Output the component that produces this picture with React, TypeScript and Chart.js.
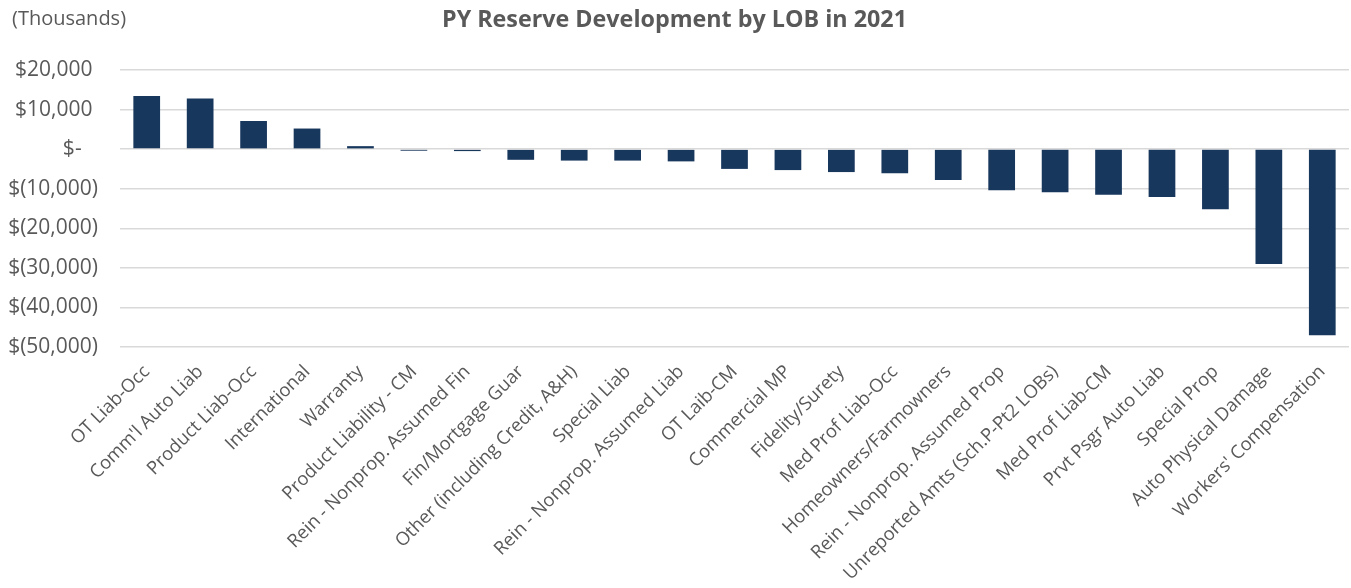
import { useEffect, useRef } from "react";
import { Chart, registerables } from "chart.js";

Chart.register(...registerables);

const TITLE = "PY Reserve Development by LOB in 2021";
const UNIT_LABEL = "(Thousands)";

const categories = [
  "OT Liab-Occ",
  "Comm'l Auto Liab",
  "Product Liab-Occ",
  "International",
  "Warranty",
  "Product Liability - CM",
  "Rein - Nonprop. Assumed Fin",
  "Fin/Mortgage Guar",
  "Other (including Credit, A&H)",
  "Special Liab",
  "Rein - Nonprop. Assumed Liab",
  "OT Laib-CM",
  "Commercial MP",
  "Fidelity/Surety",
  "Med Prof Liab-Occ",
  "Homeowners/Farmowners",
  "Rein - Nonprop. Assumed Prop",
  "Unreported Amts (Sch.P-Pt2 LOBs)",
  "Med Prof Liab-CM",
  "Prvt Psgr Auto Liab",
  "Special Prop",
  "Auto Physical Damage",
  "Workers' Compensation",
];

const values = [
  13400, 12800, 7100, 5200, 750, -400, -500, -2700, -2900, -2900, -3100,
  -5000, -5300, -5800, -6100, -7800, -10400, -10900, -11500, -12100, -15200,
  -29000, -47000,
];

const Y_MIN = -50000;
const Y_MAX = 20000;
const Y_STEP = 10000;

const BAR_COLOR = "#18375D";
const TEXT_COLOR = "#595959";
const GRID_COLOR = "#D9D9D9";
const FONT = "'Open Sans', 'Noto Sans', sans-serif";

function formatTick(v: number): string {
  if (v === 0) return "$-   ";
  const s = Math.abs(v).toLocaleString("en-US");
  return v < 0 ? `$(${s})` : `$${s} `;
}

export default function App() {
  const ref = useRef<HTMLCanvasElement>(null);

  useEffect(() => {
    document.body.style.margin = "0";
    const canvas = ref.current;
    if (!canvas) return;
    const chart = new Chart(canvas, {
      type: "bar",
      data: {
        labels: categories,
        datasets: [
          {
            data: values,
            backgroundColor: BAR_COLOR,
            borderWidth: 0,
            barPercentage: 0.5,
            categoryPercentage: 1,
          },
        ],
      },
      options: {
        animation: false,
        responsive: false,
        maintainAspectRatio: false,
        layout: { padding: { left: 0, right: 2, top: 0, bottom: 0 } },
        plugins: {
          legend: { display: false },
          tooltip: { enabled: false },
          title: {
            display: true,
            text: TITLE,
            color: TEXT_COLOR,
            font: { family: FONT, size: 23.3, weight: "bold", lineHeight: 1.2 },
            padding: { top: 6, bottom: 36 },
          },
        },
        scales: {
          x: {
            grid: { display: false },
            border: { display: false },
            ticks: {
              autoSkip: false,
              minRotation: 45,
              maxRotation: 45,
              color: TEXT_COLOR,
              font: { family: FONT, size: 18.4 },
              padding: 6,
            },
            afterFit: (s: any) => {
              s.height = 241;
            },
          },
          y: {
            min: Y_MIN,
            max: Y_MAX,
            border: { display: false },
            grid: { color: GRID_COLOR, lineWidth: 1.5, drawTicks: false },
            ticks: {
              stepSize: Y_STEP,
              color: TEXT_COLOR,
              font: { family: FONT, size: 21 },
              padding: 22,
              callback: (v: any) => formatTick(Number(v)),
            },
            afterFit: (s: any) => {
              s.width = 120;
            },
          },
        },
      },
    });
    return () => chart.destroy();
  }, []);

  return (
    <div style={{ position: "relative", width: 1351, height: 588, background: "#fff" }}>
      <canvas ref={ref} width={1351} height={588} style={{ display: "block" }} />
      <div
        style={{
          position: "absolute",
          left: 12,
          top: 8,
          fontFamily: FONT,
          fontSize: 20,
          lineHeight: "20px",
          color: TEXT_COLOR,
          whiteSpace: "nowrap",
        }}
      >
        {UNIT_LABEL}
      </div>
    </div>
  );
}
